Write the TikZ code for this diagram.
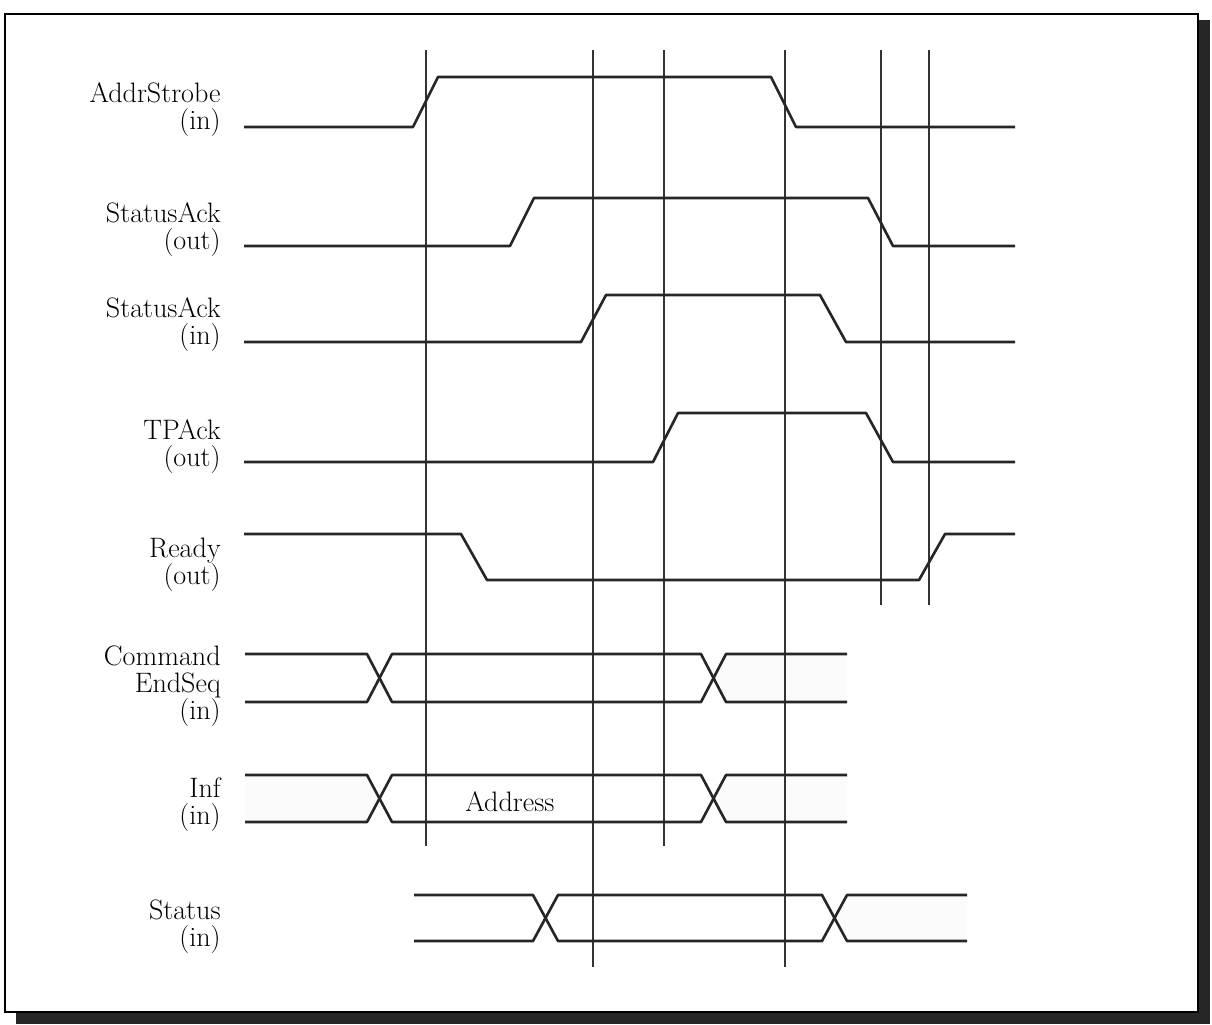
\documentclass[tikz,border=0pt]{standalone}
\usepackage{tikz}
\usetikzlibrary{positioning}

\begin{document}
\begin{tikzpicture}[
    x=0.02cm,
    y=-0.02cm,
    % === STYLES ===
    wave/.style={
        line width=1.5pt,
        line join=round,
        color=black!85
    },
    marker/.style={
        line width=0.8pt,
        color=black!80
    },
    siglabel/.style={
        anchor=east,
        align=right,
        inner sep=0pt,
        font=\fontsize{16}{15.4}\selectfont
    },
    dontcare/.style={
        fill=gray!3,
        draw=none
    },
    buslabel/.style={
        font=\fontsize{16}{15.4}\selectfont
    }
]
\useasboundingbox (0,0) rectangle (1212,1024);

% === FRAME ===
\fill[black!85] (16,20) rectangle (1210,1024);
\draw[fill=white, line width=1.1pt] (5,14) rectangle (1198,1012);

% === SIGNAL NAMES ===
\node[siglabel] (addrstrobe) at (221,110) {AddrStrobe\\(in)};
\node[siglabel] (sackout) at (221,230) {StatusAck\\(out)};
\node[siglabel] (sackin) at (221,325) {StatusAck\\(in)};
\node[siglabel] (tpack) at (221,447) {TPAck\\(out)};
\node[siglabel] (ready) at (221,565) {Ready\\(out)};
\node[siglabel] (cmdseq) at (221,686) {Command\\EndSeq\\(in)};
\node[siglabel] (inf) at (221,805) {Inf\\(in)};
\node[siglabel] (status) at (221,927) {Status\\(in)};

% === DON'T CARE AREAS ===
\fill[dontcare] (245,775) -- (367,775) -- (379,798) -- (367,822) -- (245,822) -- cycle;
\fill[dontcare] (847,775) -- (726,775) -- (714,798) -- (726,822) -- (847,822) -- cycle;
\fill[dontcare] (847,654) -- (726,654) -- (714,678) -- (726,702) -- (847,702) -- cycle;
\fill[dontcare] (967,895) -- (847,895) -- (835,918) -- (847,941) -- (967,941) -- cycle;

% === TIMING MARKERS ===
\foreach \xm/\yend in {426/846, 593/967, 664/846, 785/967, 881/605, 929/605}
    \draw[marker] (\xm,50) -- (\xm,\yend);

% === CONTROL SIGNALS ===

% AddrStrobe (in)
\draw[wave] (244,127) -- (413,127) -- (438,77) -- (771,77) -- (796,127) -- (1015,127);

% StatusAck (out)
\draw[wave] (244,246) -- (510,246) -- (534,198) -- (868,198) -- (893,246) -- (1015,246);

% StatusAck (in)
\draw[wave] (244,342) -- (581,342) -- (606,295) -- (820,295) -- (846,342) -- (1015,342);

% TPAck (out)
\draw[wave] (244,462) -- (653,462) -- (678,413) -- (866,413) -- (893,462) -- (1015,462);

% Ready (out)
\draw[wave] (244,534) -- (461,534) -- (487,580) -- (919,580) -- (945,534) -- (1015,534);

% === BUS SIGNALS ===

% Command / EndSeq (in)
\draw[wave] (245,654) -- (367,654) -- (392,702) -- (701,702) -- (726,654) -- (847,654);
\draw[wave] (245,702) -- (367,702) -- (392,654) -- (701,654) -- (726,702) -- (847,702);

% Inf (in)
\draw[wave] (245,775) -- (367,775) -- (392,822) -- (701,822) -- (726,775) -- (847,775);
\draw[wave] (245,822) -- (367,822) -- (392,775) -- (701,775) -- (726,822) -- (847,822);
\node[buslabel] (address) at (510,802) {Address};

% Status (in)
\draw[wave] (414,895) -- (533,895) -- (558,941) -- (822,941) -- (847,895) -- (967,895);
\draw[wave] (414,941) -- (533,941) -- (558,895) -- (822,895) -- (847,941) -- (967,941);

\end{tikzpicture}
\end{document}
